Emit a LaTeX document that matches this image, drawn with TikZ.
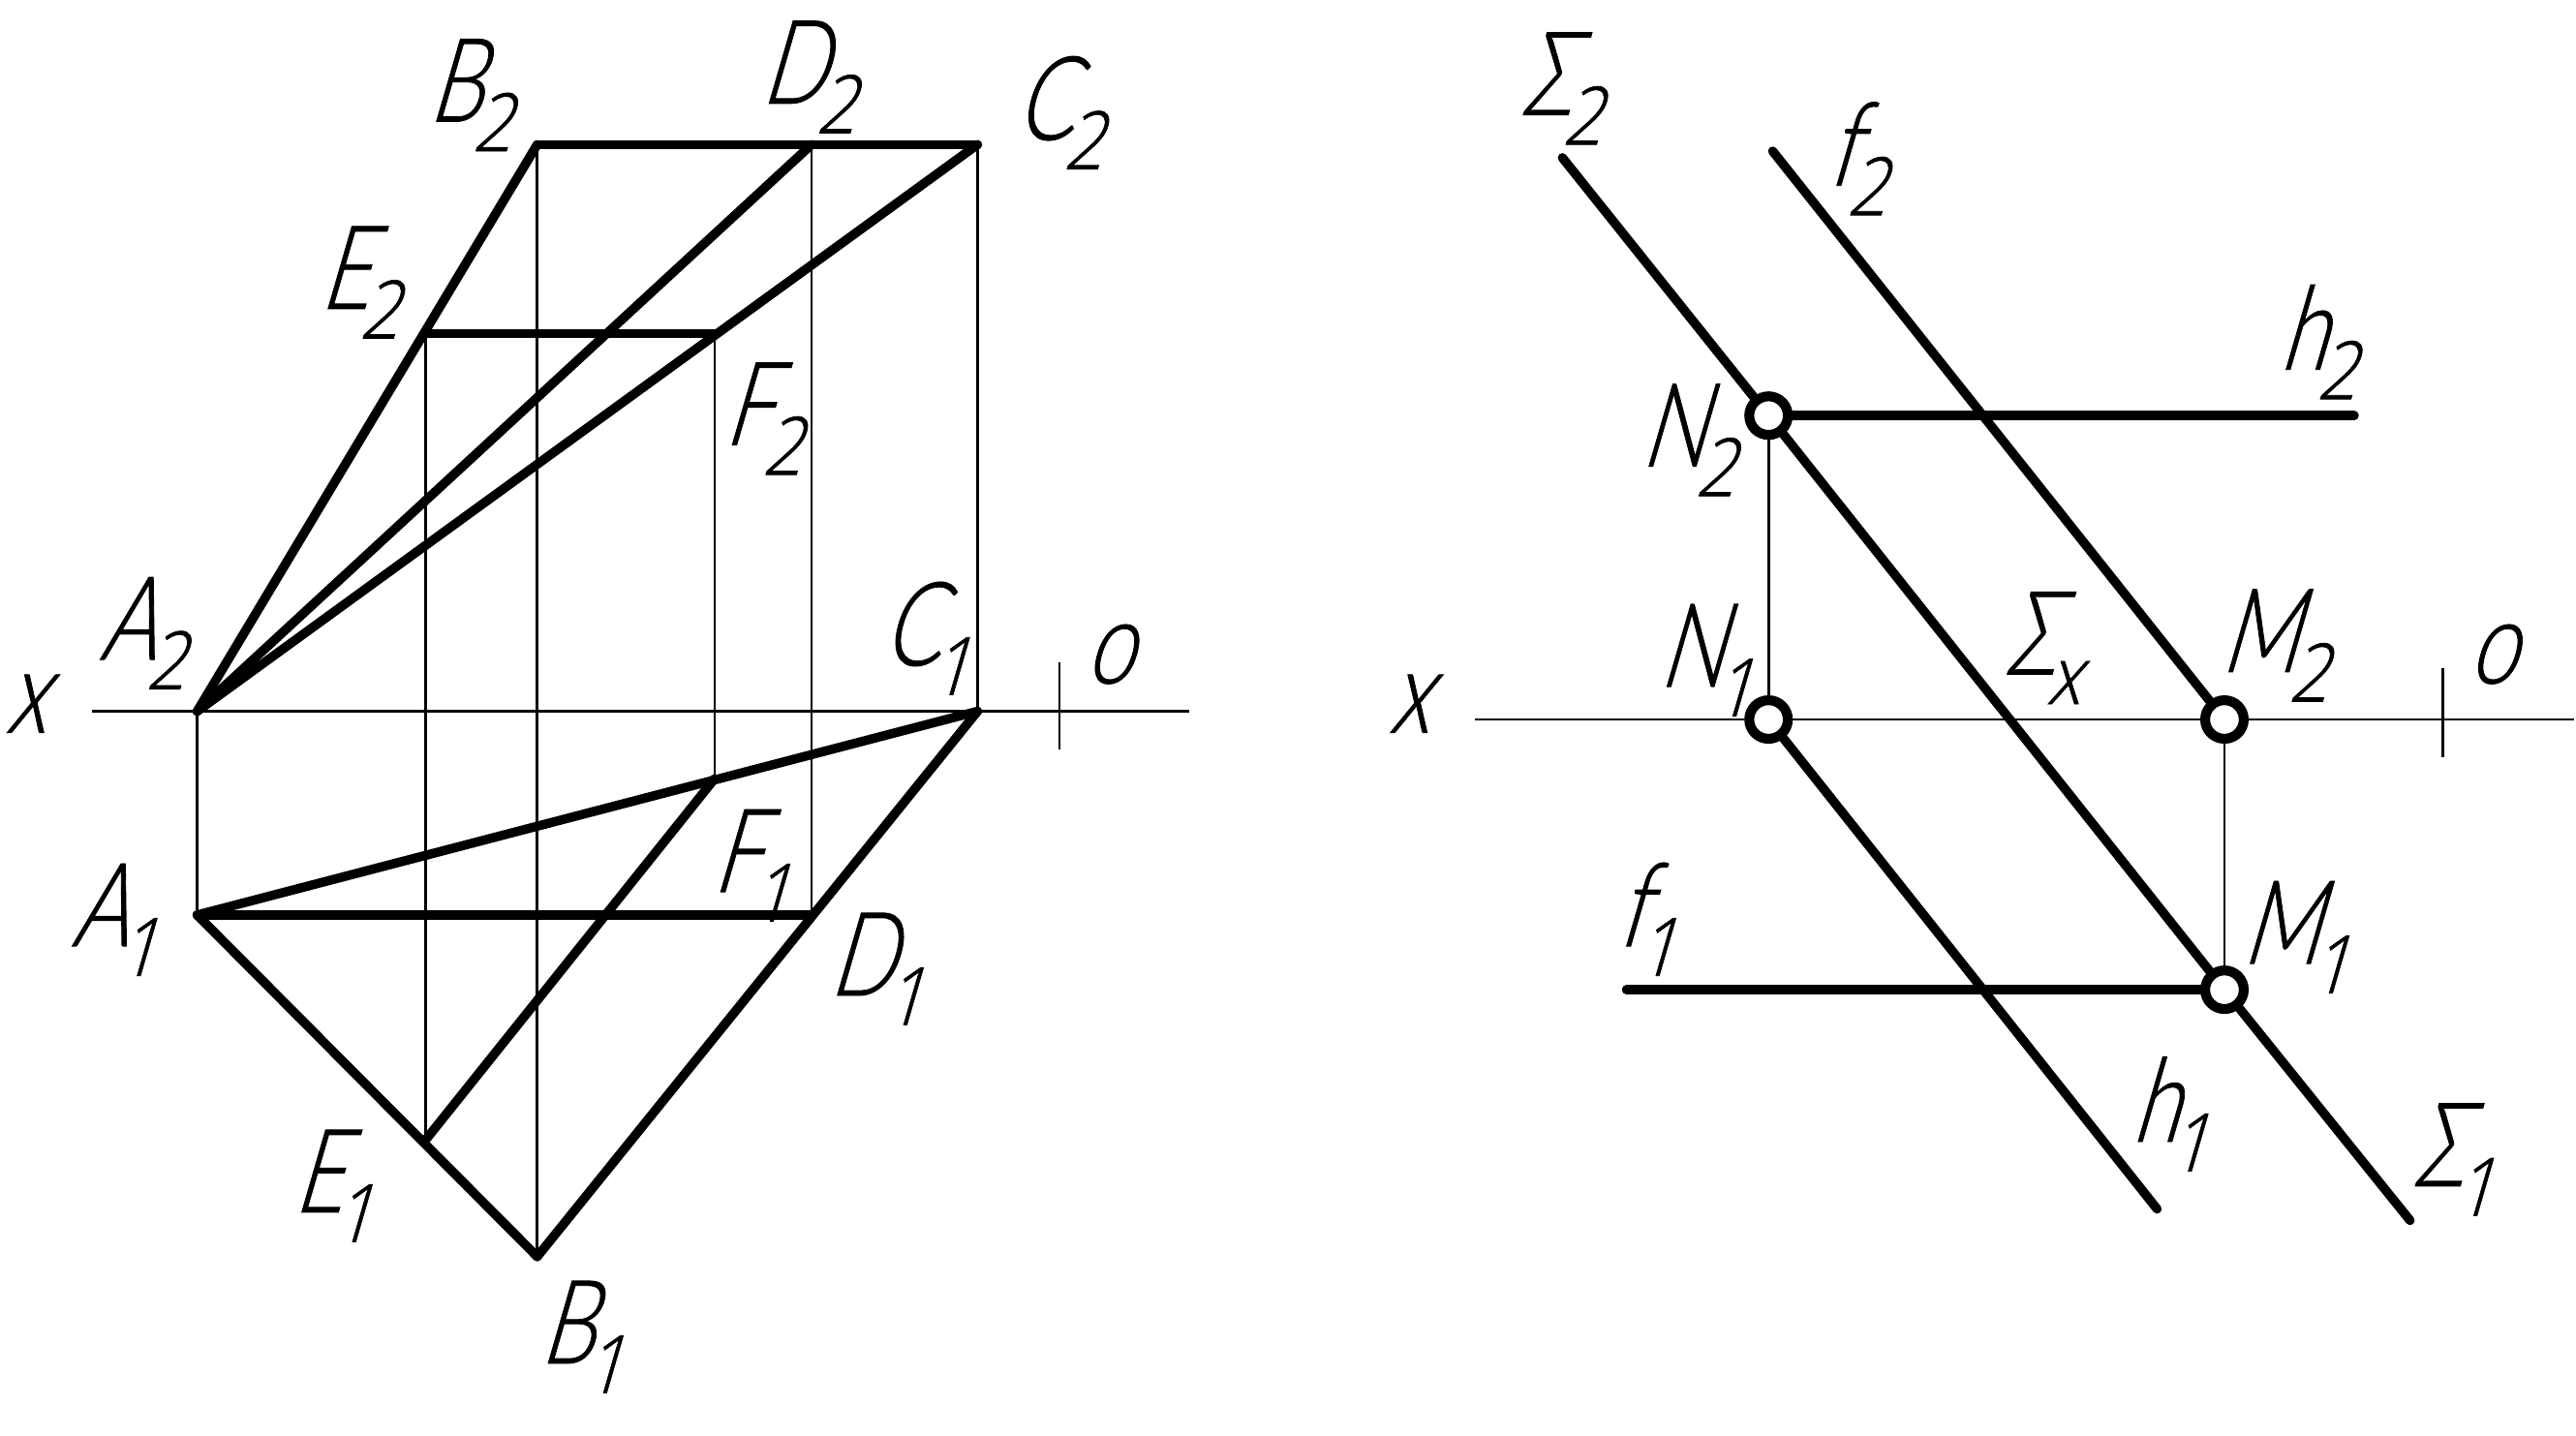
\documentclass[tikz,border=0pt]{standalone}
\usepackage{fontspec}
\newfontfamily\gost[FakeSlant=0.29,FakeStretch=0.74,FakeBold=0.7]{Lato Light}
\newfontfamily\gostsub[FakeSlant=0.29,FakeStretch=0.85,FakeBold=0.9]{Open Sans Light}
\newcommand{\lab}[2]{#1\kern-6pt\raisebox{-18pt}{\gostsub\fontsize{49}{49}\selectfont #2}}
\tikzset{
  pnt/.style={inner sep=0pt,outer sep=0pt,minimum size=0pt},
  ring/.style={circle,draw,fill=white,line width=6pt,inner sep=0pt,minimum size=23.5pt},
  lbl/.style={anchor=base west,inner sep=0pt,xshift=-5pt,font=\gost\fontsize{71}{71}\selectfont},
  thickline/.style={line width=5.6pt,line cap=round},
  thinline/.style={line width=1.5pt}
}
\begin{document}
\begin{tikzpicture}[x=1pt,y=-1pt]
      \useasboundingbox (0,0) rectangle (1568,873.6);
      % left view
      \draw
        (120,433) node[pnt] (A2){}
        (327,88) node[pnt] (B2){}
        (494,88) node[pnt] (D2){}
        (595,88) node[pnt] (C2){}
        (259,203) node[pnt] (E2){}
        (435,203) node[pnt] (F2){}
        (120,557) node[pnt] (A1){}
        (327,765) node[pnt] (B1){}
        (595,433) node[pnt] (C1){}
        (494,557) node[pnt] (D1){}
        (259,694) node[pnt] (E1){}
        (435,474) node[pnt] (F1){}
        (56,433) node[pnt] (axisLa){}
        (724,433) node[pnt] (axisLb){}
        (645,403) node[pnt] (tickLa){}
        (645,456) node[pnt] (tickLb){};
      \begin{scope}[thinline]
        \draw (axisLa) to (axisLb);
        \draw (tickLa) to (tickLb);
        \draw (A2) to (A1);
        \draw (E2) to (E1);
        \draw (B2) to (B1);
        \draw (F2) to (F1);
        \draw (D2) to (D1);
        \draw (C2) to (C1);
      \end{scope}
      \begin{scope}[thickline]
        \draw (A2) to (B2);
        \draw (B2) to (C2);
        \draw (A2) to (C2);
        \draw (A2) to (D2);
        \draw (E2) to (F2);
        \draw (A1) to (B1);
        \draw (B1) to (C1);
        \draw (A1) to (C1);
        \draw (A1) to (D1);
        \draw (E1) to (F1);
      \end{scope}
      % right view
      \draw
        (1076.5,253) node[ring] (N2){}
        (1076.5,438) node[ring] (N1){}
        (1354,438) node[ring] (M2){}
        (1354,602.5) node[ring] (M1){}
        (951,96) node[pnt] (S2){}
        (1467,743) node[pnt] (S1){}
        (1079,92) node[pnt] (f2){}
        (1433,253) node[pnt] (h2){}
        (990,602.5) node[pnt] (f1){}
        (1313,736) node[pnt] (h1){}
        (898,438) node[pnt] (axisRa){}
        (1567,438) node[pnt] (axisRb){}
        (1487,407) node[pnt] (tickRa){}
        (1487,461) node[pnt] (tickRb){};
      \begin{scope}[thinline]
        \draw (axisRa) to (N1);
        \draw (N1) to (M2);
        \draw (M2) to (axisRb);
        \draw (tickRa) to (tickRb);
        \draw (N2) to (N1);
        \draw (M2) to (M1);
      \end{scope}
      \begin{scope}[thickline]
        \draw (S2) to (N2);
        \draw (N2) to (M1);
        \draw (M1) to (S1);
        \draw (f2) to (M2);
        \draw (N2) to (h2);
        \draw (f1) to (M1);
        \draw (N1) to (h1);
      \end{scope}
      % labels
      \node[lbl] (labA2) at (65,401.6) {\lab{A}{2}};
      \node[lbl] (labB2) at (265,74) {\lab{B}{2}};
      \node[lbl] (labD2) at (467.5,63) {\lab{D}{2}};
      \node[lbl] (labC2) at (622.5,85) {\lab{C}{2}};
      \node[lbl] (labE2) at (199,188) {\lab{E}{2}};
      \node[lbl] (labF2) at (445,271) {\lab{F}{2}};
      \node[lbl] (labC1) at (541.5,405) {\lab{C}{1}};
      \node[lbl] (labA1) at (48,576) {\lab{A}{1}};
      \node[lbl] (labF1) at (438,543) {\lab{F}{1}};
      \node[lbl] (labD1) at (509,606) {\lab{D}{1}};
      \node[lbl] (labE1) at (183,738) {\lab{E}{1}};
      \node[lbl] (labB1) at (333,830) {\lab{B}{1}};
      \node[lbl] (labxL) at (8,446) {x};
      \node[lbl] (laboL) at (665,416) {o};
      \node[lbl] (labS2) at (930,70) {\lab{Σ}{2}};
      \node[lbl] (labf2) at (1117,113) {\lab{f}{2}};
      \node[lbl] (labh2) at (1392,225) {\lab{h}{2}};
      \node[lbl] (labN2) at (1003,284) {\lab{N}{2}};
      \node[lbl] (labN1) at (1014,418) {\lab{N}{1}};
      \node[lbl] (labSx) at (1224.6,410.6) {\lab{Σ}{x}};
      \node[lbl] (labM2) at (1356,409) {\lab{M}{2}};
      \node[lbl] (labM1) at (1369,586.6) {\lab{M}{1}};
      \node[lbl] (labf1) at (989,576) {\lab{f}{1}};
      \node[lbl] (labh1) at (1302,695) {\lab{h}{1}};
      \node[lbl] (labS1) at (1473,722) {\lab{Σ}{1}};
      \node[lbl] (labxR) at (850,446) {x};
      \node[lbl] (laboR) at (1507,416) {o};
    \end{tikzpicture}
\end{document}
